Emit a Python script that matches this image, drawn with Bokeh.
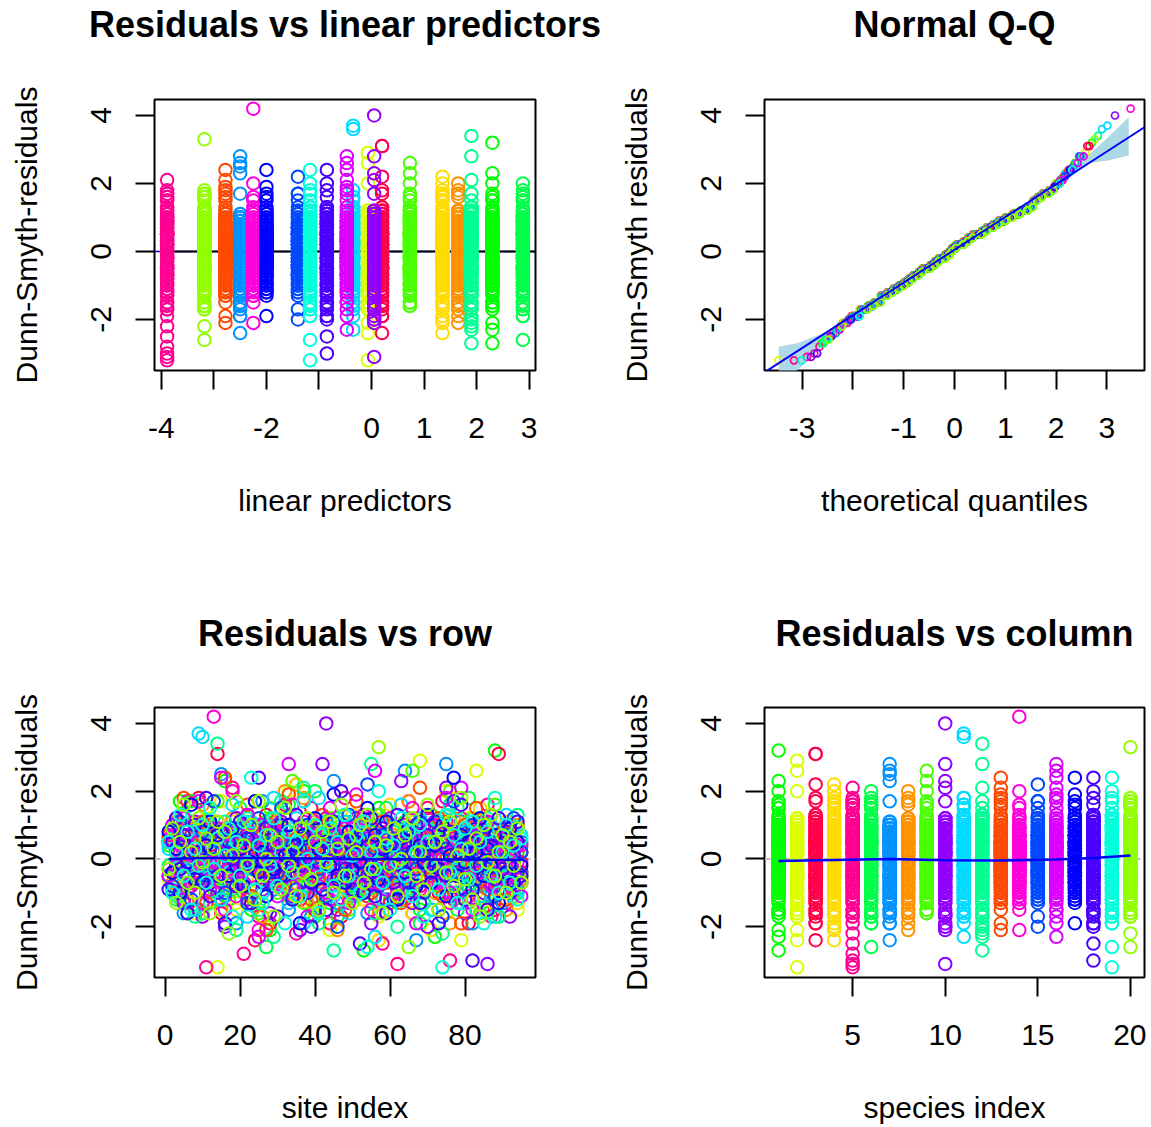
from statistics import NormalDist
import numpy as np
from bokeh.plotting import figure
from bokeh.models import FixedTicker, Range1d, ColumnDataSource, LinearAxis
from bokeh.layouts import column, row
from bokeh.embed import file_html
from bokeh.resources import INLINE

FONT = "Liberation Sans"

# ---------------- data ----------------
species_index = list(range(1, 21))
species_colors = ["#00FF00", "#DBFF00", "#FF0049", "#FFDB00", "#FF0092",
                  "#00FF49", "#0092FF", "#FF9200", "#49FF00", "#9200FF",
                  "#00DBFF", "#00FF92", "#FF4900", "#FF00DB", "#0049FF",
                  "#DB00FF", "#0000FF", "#4900FF", "#00FFDB", "#92FF00"]
linear_predictor = [2.3, -0.07, 0.2, 1.35, -3.89, 2.88, -2.5, 1.65, 0.73, 0.05,
                    -0.35, 1.9, -2.78, -2.25, -1.4, -0.47, -2.0, -0.85, -1.17, -3.18]

# Dunn-Smyth residuals per species (tenths), one value per site 1..95
res_sp01 = [4, -10, 6, 17, -2, -16, 2, 9, -5, 0, 15, -7, 2, -12, 5, 23, -2, -9, 7, -4,
            10, -1, -15, 5, 3, -6, 11, -21, 1, 8, -3, 16, -11, 5, -5, 2, 20, -8, 4, -17,
            6, -2, 9, -13, 0, 12, -5, 2, -10, 7, -2, 5, -27, 10, -7, 3, 15, -4, 1, -12,
            8, -5, 5, 11, -9, -1, 2, -15, 6, -3, 13, -23, 4, -6, 9, 2, -11, 7, -2, 5,
            -8, 12, 0, -5, 10, -16, 3, 32, -7, 5, -2, 8, -10, 2, -4]
res_sp02 = [-6, 9, 2, -12, 5, -2, 11, -16, 0, 7, -4, 12, -9, -32, 3, 5, -7, 2, -13, 10,
            1, -5, 8, -10, 4, -17, 6, -2, 12, -5, 2, -8, 20, -1, -11, 7, -3, 5, -15, 9,
            -6, 0, 11, -21, 5, -4, 2, 10, -9, 3, -12, 6, -2, 8, -5, 12, -17, 4, -7, 1,
            9, -3, 5, -10, 2, 11, -5, 29, -13, 7, -1, 5, -8, 3, -16, 10, -2, 6, -24, 2,
            12, -6, 26, -4, 8, -11, 1, -2, 7, -9, 4, -5, 10, -15, 2]
res_sp03 = [5, -8, 11, -3, 2, -13, 7, -5, 18, -1, -10, 4, -5, 31, -16, 9, 0, -7, 12, 3,
            -2, 8, -11, -24, 1, -6, 13, -19, 5, 6, -9, 2, 10, -4, 22, -12, 5, -2, 8, -15,
            3, -5, 12, -8, 0, 7, -17, 4, -3, 11, -7, 2, 9, -11, 5, -1, 13, -5, 2, -13,
            6, -9, 1, 10, -2, -16, 7, 3, -6, 12, -4, 5, -10, 17, -2, 8, -12, 2, -5, 9,
            -19, 5, 1, -8, 11, -3, 6, -15, 31, 2, -5, 10, -7, 4, -1]
res_sp04 = [-5, 10, -1, 6, -12, 3, 16, -7, 2, -17, 8, -3, 5, -9, 17, -2, -5, 11, -15, 1,
            7, -11, 2, 17, -6, 4, -20, 9, -2, 5, -8, 12, 0, -4, 22, -10, 6, -1, 15, -13,
            3, -5, 10, -19, 2, 8, -3, 5, -9, 13, -2, 7, -12, 1, 11, -7, -24, 5, -5, 16,
            2, -10, 9, -2, 4, -16, 12, 0, -6, 6, -21, 5, 10, -4, 20, -8, 2, 18, -11, 3,
            -1, 7, -5, 15, -15, 2, -3, 9, -9, 5, 11, -5, 1, -13, 4]
res_sp05 = [6, -4, 12, -10, 2, 17, -7, 4, -15, 9, -32, 3, -5, 11, -1, 7, -12, 21, 0, -8,
            -28, 13, -3, 5, -17, 8, -2, 10, -9, 2, -6, 16, -13, 5, -22, 1, 9, -5, 15, -11,
            4, -2, 7, -19, 11, -7, 2, 18, -4, 6, -10, 0, 13, -5, 8, -16, 3, -25, 10, -1,
            5, -31, 5, -12, 17, -3, 9, -8, 2, 15, -5, 7, -15, 1, 11, -30, 6, -2, 12, -9,
            3, -6, 10, -11, 5, 16, -17, 2, -2, 8, -13, 5, -7, 9, -4]
res_sp06 = [-2, 9, -12, 5, 1, -7, 17, -5, 7, -16, 11, -1, 3, -9, 6, -19, 8, 2, -5, 15,
            -10, 4, -3, 10, -13, 5, -26, 12, -2, 2, 7, -6, 16, -11, 0, 5, -8, 9, -4, 20,
            -15, 3, 11, -2, 6, -17, 1, 13, -7, 5, -5, 10, -9, 2, 8, -12, 4, -1, 15, -6,
            2, -13, 7, -3, 12, -8, 5, -19, 9, 0, 6, -5, 11, -10, 3, 16, -2, -15, 8, -4,
            18, -7, 1, 5, -11, 10, -2, 4, -17, 7, -1, 9, -9, 5, -5]
res_sp07 = [-3, 7, -10, 2, -16, 9, 0, -6, 5, -13, 10, -5, 2, -8, 25, -11, 6, -2, -19, 4,
            -7, 8, -1, -12, 5, 17, -4, 2, -9, 10, -5, 1, -15, 7, -2, 9, -10, 3, -17, 6,
            2, -7, 11, -5, 23, -13, 5, -1, 8, -11, 4, -3, 9, -16, 0, 6, -8, 10, -5, 2,
            -12, 5, -2, 26, -9, 7, -24, 3, -5, 9, -15, 1, 8, -6, 28, -2, 5, -10, 11, -4,
            6, -19, 2, 10, -7, 4, -11, 7, -1, -13, 9, -5, 3, -9, 5]
res_sp08 = [5, -7, 11, -2, 7, -12, 1, 9, -5, 16, -9, 3, -1, 8, -15, 5, -4, 12, -6, 2,
            10, -11, 4, -2, 6, -17, 9, 0, -8, 11, -3, 20, -10, 5, -5, 2, 18, -13, 7, -1,
            1, -7, 10, -4, 8, -21, 3, 6, -11, 5, -2, 12, -5, 2, -9, 9, -16, 4, 11, -5,
            7, -1, -12, 5, 17, -8, 2, -3, 10, -6, 3, -10, 8, -2, 5, -19, 12, -5, 1, 6,
            -13, 9, -4, 2, -7, 11, -1, 5, -9, 4, -15, 7, -2, 10, -6]
res_sp09 = [8, -4, 2, -11, 12, -6, 5, -15, 1, 10, -2, 6, -9, 17, -5, 3, -12, 9, -1, 5,
            -7, 11, -2, 2, -16, 7, -5, 15, 4, -10, 1, 9, -4, 23, -8, 5, -13, 2, 10, -3,
            6, -11, 0, 12, -6, 4, -2, 8, -15, 5, -9, 2, 11, -5, 7, -1, 13, -12, 3, -7,
            9, -2, 5, -10, 1, 26, -5, 10, -13, 2, -4, 7, -8, 12, -2, 20, -11, 5, 0, -6,
            11, -3, 4, -16, 8, -7, 2, 16, -5, 6, -10, 3, -1, 9, -5]
res_sp10 = [-5, 10, -2, 6, -13, 3, -8, 11, 0, -17, 5, -4, 9, -10, 2, -20, 7, -1, 12, -6,
            2, -12, 5, -3, 10, -9, 1, -16, 8, -5, 11, -2, 4, -11, 6, -21, 17, 3, -7, 9,
            -4, 28, 40, -5, 1, -15, 8, -2, 5, -10, 12, -8, 2, 7, -19, 4, -3, 10, -12, 0,
            5, -9, 23, -5, 2, -13, 9, -1, 6, -20, 3, -7, 11, -2, 21, -11, 5, -5, 8, -16,
            1, 10, -4, 6, -10, -31, 2, -8, 12, -3, 7, -17, 4, -6, 2]
res_sp11 = [3, -9, 7, -2, 13, -5, 1, -15, 37, 36, -6, 10, -2, 5, -12, 8, -4, 16, -8, 2,
            5, -17, 11, -1, 4, -10, 9, -5, 18, -7, -2, 6, -13, 2, 12, -3, -19, 7, -9, 5,
            18, -5, 0, 9, -11, 3, -2, 11, -16, 6, -4, 8, -7, 13, 1, -23, 5, -12, 10, -1,
            2, -8, 16, -5, 7, -10, 2, 12, -6, 4, -15, 9, -2, 5, -9, 15, -3, 0, -13, 8,
            -5, 11, 3, -11, 6, -2, 10, -17, 5, -5, 13, -7, 2, -10, 7]
res_sp12 = [-5, 8, -11, 4, 13, -7, 2, -17, 9, -2, 5, -13, 0, 34, -5, 11, -9, 3, -21, 7,
            -2, 12, -6, 5, -15, 1, 10, -4, -23, 6, 17, -8, 2, -12, 8, -3, 21, -10, 4, -1,
            -19, 7, -5, 11, -27, 2, -7, 13, -2, 5, -11, 9, -1, 5, 28, -16, 3, 10, -6, 0,
            8, -20, 2, -4, 12, -9, 6, -2, -13, 9, 4, -5, 11, -22, 1, 7, -10, 15, -3, 5,
            -8, 10, -15, 2, -1, 12, -5, 5, -17, 8, -2, 6, -11, 13, -7]
res_sp13 = [7, -4, 2, -10, 18, -2, 5, -7, 1, 11, -13, 3, -1, 8, -5, 24, -3, 5, -8, 2,
            -1, 16, -11, 4, -3, 7, -21, 1, 9, -5, 4, -7, 19, -2, 6, -4, 0, 10, -12, 3,
            -6, 13, -1, 5, -9, 2, 8, -15, 3, -3, 17, -5, 1, 7, -10, 4, -2, 11, -7, 1,
            -4, 9, -13, 2, 5, -1, -8, 21, -3, 6, -5, 3, 12, -11, 0, 7, -4, 2, -19, 10,
            5, -2, 15, -6, 3, -9, 7, -3, 1, 8, -12, 4, -2, 5, -7]
res_sp14 = [-3, 7, -6, 2, 12, -9, 1, -4, 5, -13, 4, -1, 42, 9, -7, 2, -3, 20, -11, 5,
            -1, 7, -5, 3, -21, 10, -2, 4, -7, 1, 8, -5, 0, 16, -4, 3, -10, 6, -2, 11,
            -8, 2, 5, -12, 1, 7, -3, 4, -6, 9, -4, 1, 12, -1, -15, 5, -7, 3, 8, -3,
            6, -10, 2, 4, -5, 15, -1, -9, 3, 7, -2, 10, -7, 0, 5, -13, 4, -4, 7, 2,
            -11, 5, -2, 9, -5, 2, 13, -7, 1, -3, 7, -8, 3, -1, 4]
res_sp15 = [5, -8, 2, 11, -4, 7, -12, 1, -2, 8, -5, 3, 17, -1, 5, -10, 2, -4, 9, -7,
            1, -13, 6, -3, 12, -1, 4, -7, 7, -4, 15, -5, 0, 4, -9, 3, -2, 10, -6, 5,
            -3, 8, -11, 2, 7, -20, 5, -1, 13, -7, 1, 6, -4, 22, -2, 3, -8, 7, -5, 2,
            -12, 9, -1, 4, -7, 5, -3, 11, -10, 1, 4, -2, 8, -17, 3, -5, 17, -4, 6, -9,
            2, 10, -6, 0, 7, -3, 5, -11, 3, -1, 7, -7, 12, -4, 2]
res_sp16 = [-5, 10, -2, 4, -12, 7, -7, 1, 17, -3, 6, -9, 3, -1, 24, -15, 4, -4, 8, 0,
            -7, 13, -2, 5, -23, 2, 9, -5, 3, -11, 7, -1, 28, -8, 5, -3, 11, -17, 1, 7,
            -4, 2, -10, 15, -6, 4, -2, 9, -13, 3, 19, -5, 0, 6, -7, 26, -3, 4, -9, 12,
            -1, -12, 5, -4, 8, 2, -19, 7, -2, 3, 10, -7, 1, -3, 18, -10, 5, -5, 21, -2,
            4, -15, 7, -4, 1, 11, -8, 3, -1, 6, -6, 9, -3, 4, -11]
res_sp17 = [8, -4, 3, -10, 5, -1, 16, -6, 2, -7, 4, 11, -3, 7, -12, 1, -5, 9, -2, 3,
            -8, 6, -1, 17, -4, 2, -11, 7, -3, 5, -5, 1, 10, -2, 4, -19, 7, 0, -7, 12,
            3, -9, 5, -2, 19, -5, 2, -7, 8, -3, 5, -1, -10, 15, -4, 7, -6, 3, 11, -2,
            1, -12, 6, -4, 9, 2, -8, 4, -1, 13, -7, 4, -3, 10, -11, 1, 24, -5, 7, -1,
            5, -9, 2, 12, -5, 3, -2, 7, -13, 2, -4, 9, -7, 5, -2]
res_sp18 = [-9, 5, 12, -3, 7, -16, 2, 10, -6, -1, 18, -11, 3, -5, 8, -19, 5, 0, -8, 11,
            -2, 6, -13, 1, 24, -7, 9, -4, 4, -17, 10, -5, 2, -12, 13, -2, 6, -10, -20, 5,
            -1, 8, -15, 3, 11, -6, 20, -3, 5, -9, 2, -25, 7, -5, 12, -11, 0, 9, -16, 4,
            -7, 13, -2, 5, -10, 2, 10, -13, 1, 7, -4, 11, -19, 5, -5, 8, -8, 2, 16, -12,
            3, -30, 9, -2, 6, -15, 4, -6, 12, -3, 8, -10, 1, 11, -5]
res_sp19 = [5, -10, 2, 13, -5, 8, -15, 3, -2, 10, -7, 15, -3, 6, -12, 1, 9, -17, 5, -5,
            11, -1, 24, -9, 4, -13, 7, -2, 12, -8, 2, -19, 8, -4, 5, -11, 17, 0, -6, 10,
            -16, 3, -2, 9, -8, 5, -12, 13, -5, 1, 7, -10, 11, -26, 2, -3, 20, -7, 6, -15,
            4, -1, 12, -5, 8, -11, 2, 10, -17, 5, -2, 5, -9, -32, 13, -4, 7, -13, 3, 9,
            -6, 11, -2, 5, -19, 8, -5, 18, -10, 2, 10, -7, 4, -12, 6]
res_sp20 = [-3, 9, -13, 5, 16, -7, 2, -10, 12, -1, 6, -16, 3, 11, -5, 8, -22, 1, 17, -8,
            4, -2, 10, -12, 17, -5, 0, 7, -17, 5, -9, 15, -2, 2, -11, 9, -4, 12, -6, 5,
            -15, 8, -1, 11, -10, 3, 16, -5, 6, -13, 2, 10, -7, 13, -3, 5, 33, -16, 4, -2,
            9, -11, 0, 7, -26, 12, -5, 2, -9, 16, -2, 5, -15, 8, -4, 11, -8, 1, 18, -6,
            3, -12, 6, -17, 10, -1, 13, -5, 2, 7, -10, 5, -2, 9, -7]

residuals_by_species = [res_sp01, res_sp02, res_sp03, res_sp04, res_sp05, res_sp06, res_sp07,
                        res_sp08, res_sp09, res_sp10, res_sp11, res_sp12, res_sp13, res_sp14,
                        res_sp15, res_sp16, res_sp17, res_sp18, res_sp19, res_sp20]

# smoothers / envelope
row_smooth_x = [1, 10, 20, 30, 40, 50, 60, 70, 80, 95]
row_smooth_y = [0.0, 0.03, 0.03, 0.02, 0.01, 0.0, -0.01, -0.02, -0.02, -0.03]
col_smooth_x = [1, 4, 7, 10, 13, 16, 18, 20]
col_smooth_y = [-0.06, -0.03, 0.0, -0.04, -0.05, -0.02, 0.03, 0.1]
env_x = [-3.46, -3.1, -2.7, -2.4, -2.0, -1.5, 0.0, 1.5, 2.0, 2.3, 2.65, 3.05, 3.43]
env_lo = [-3.9, -3.5, -2.95, -2.5, -2.02, -1.5, -0.06, 1.42, 1.9, 2.2, 2.6, 2.68, 2.82]
env_hi = [-2.8, -2.7, -2.47, -2.3, -1.92, -1.44, 0.0, 1.5, 2.0, 2.3, 2.85, 3.4, 3.95]

# ---------------- long format ----------------
res, site, spec, lp, col = [], [], [], [], []
for j, vals in enumerate(residuals_by_species):
    for i, v in enumerate(vals):
        res.append(v / 10.0)
        site.append(i + 1)
        spec.append(species_index[j])
        lp.append(linear_predictor[j])
        col.append(species_colors[j])
res_arr = np.array(res)
N = len(res_arr)
order = np.argsort(res_arr, kind="stable")
ranks = np.empty(N, dtype=int)
ranks[order] = np.arange(N)
nd = NormalDist()
theo = [nd.inv_cdf((r + 0.5) / N) for r in ranks]
# qqline through the quartiles
q1, q3 = np.quantile(res_arr, [0.25, 0.75])
z1, z3 = nd.inv_cdf(0.25), nd.inv_cdf(0.75)
qq_slope = (q3 - q1) / (z3 - z1)
qq_intercept = q1 - qq_slope * z1

src = ColumnDataSource(dict(res=res, site=site, spec=spec, lp=lp, col=col, theo=theo))

YR = (-3.5, 4.47)


def make_fig(title, title_standoff, xr, xticks, xlabels, xlabel, ylabel,
             top, fh, bottom, left, fw, right):
    p = figure(frame_width=fw, frame_height=fh, min_border_left=left, min_border_right=right,
               min_border_top=top, min_border_bottom=bottom,
               x_range=Range1d(*xr), y_range=Range1d(*YR),
               output_backend="svg", toolbar_location=None, tools="")
    p.outline_line_color = "black"
    p.outline_line_width = 2
    p.xgrid.visible = False
    p.ygrid.visible = False
    p.background_fill_color = "white"
    p.border_fill_color = "white"
    p.xaxis.ticker = FixedTicker(ticks=xticks)
    p.xaxis.major_label_overrides = {t: l for t, l in zip(xticks, xlabels)}
    p.yaxis.ticker = FixedTicker(ticks=[-2, 0, 2, 4])
    p.yaxis.major_label_overrides = {-2: "-2", 0: "0", 2: "2", 4: "4"}
    p.yaxis.major_label_orientation = "vertical"
    p.xaxis.axis_label = xlabel
    p.yaxis.axis_label = ylabel
    for ax in (p.xaxis[0], p.yaxis[0]):
        ax.axis_line_color = None
        ax.major_tick_line_color = "black"
        ax.major_tick_line_width = 2
        ax.major_tick_out = 19
        ax.major_tick_in = 0
        ax.minor_tick_line_color = None
        ax.major_label_text_font = FONT
        ax.major_label_text_font_size = "30px"
        ax.major_label_text_color = "black"
        ax.axis_label_text_font = FONT
        ax.axis_label_text_font_size = "30px"
        ax.axis_label_text_font_style = "normal"
        ax.axis_label_text_color = "black"
    p.xaxis.major_label_standoff = 28
    p.xaxis.axis_label_standoff = 43
    p.yaxis.major_label_standoff = 24
    p.yaxis.axis_label_standoff = 46
    # panel title, drawn as the label of a tick-less axis above the frame
    tax = LinearAxis(ticker=FixedTicker(ticks=[]), axis_label=title,
                     axis_line_color=None, major_tick_line_color=None,
                     minor_tick_line_color=None, major_tick_out=0, major_tick_in=0,
                     minor_tick_out=0, minor_tick_in=0, major_label_standoff=0,
                     axis_label_standoff=title_standoff,
                     axis_label_text_font=FONT, axis_label_text_font_size="36px",
                     axis_label_text_font_style="bold", axis_label_text_color="black")
    p.add_layout(tax, "above")
    return p


TOP1, FH1, BOT1 = 99, 271, 239
TOP2, FH2, BOT2 = 90, 270, 141
L1, FWL, RL = 154, 381, 81
L2, FWR, RR = 147, 380, 2
TS1, TS2 = 55, 54

# Residuals vs linear predictors
p1 = make_fig("Residuals vs linear predictors", TS1, (-4.13, 3.12),
              [-4, -3, -2, -1, 0, 1, 2, 3], ["-4", "", "-2", "", "0", "1", "2", "3"],
              "linear predictors", "Dunn-Smyth-residuals", TOP1, FH1, BOT1, L1, FWL, RL)
p1.line([-4.13, 3.12], [0, 0], line_color="blue", line_width=1.5)
p1.line([-4.0, 3.12], [0, 0], line_color="black", line_width=2)
p1.scatter("lp", "res", source=src, marker="circle", size=12.5, fill_color=None,
           line_color="col", line_width=2)

# Normal Q-Q
p2 = make_fig("Normal Q-Q", TS1, (-3.74, 3.74),
              [-3, -2, -1, 0, 1, 2, 3], ["-3", "", "-1", "0", "1", "2", "3"],
              "theoretical quantiles", "Dunn-Smyth residuals", TOP1, FH1, BOT1, L2, FWR, RR)
p2.varea(x=env_x, y1=env_lo, y2=env_hi, fill_color="#ADD8E6")
p2.scatter("theo", "res", source=src, marker="circle", size=7, fill_color=None,
           line_color="col", line_width=1.7)
qx = [-3.74, 3.74]
p2.line(qx, [qq_intercept + qq_slope * v for v in qx], line_color="#0000FF", line_width=2)

# Residuals vs row
p3 = make_fig("Residuals vs row", TS2, (-2.8, 98.8),
              [0, 20, 40, 60, 80], ["0", "20", "40", "60", "80"],
              "site index", "Dunn-Smyth-residuals", TOP2, FH2, BOT2, L1, FWL, RL)
p3.line([-2.8, 98.8], [0, 0], line_color="#BEBEBE", line_width=2, line_dash="6 4")
p3.scatter("site", "res", source=src, marker="circle", size=12.5, fill_color=None,
           line_color="col", line_width=2)
p3.line(row_smooth_x, row_smooth_y, line_color="#0000FF", line_width=2.5)

# Residuals vs column
p4 = make_fig("Residuals vs column", TS2, (0.24, 20.76),
              [5, 10, 15, 20], ["5", "10", "15", "20"],
              "species index", "Dunn-Smyth-residuals", TOP2, FH2, BOT2, L2, FWR, RR)
p4.line([0.24, 20.76], [0, 0], line_color="#BEBEBE", line_width=2, line_dash="6 4")
p4.scatter("spec", "res", source=src, marker="circle", size=12.5, fill_color=None,
           line_color="col", line_width=2)
p4.line(col_smooth_x, col_smooth_y, line_color="#0000FF", line_width=2.5)

layout = column(row(p1, p2), row(p3, p4))
open("out.html", "w").write(file_html(layout, INLINE))
